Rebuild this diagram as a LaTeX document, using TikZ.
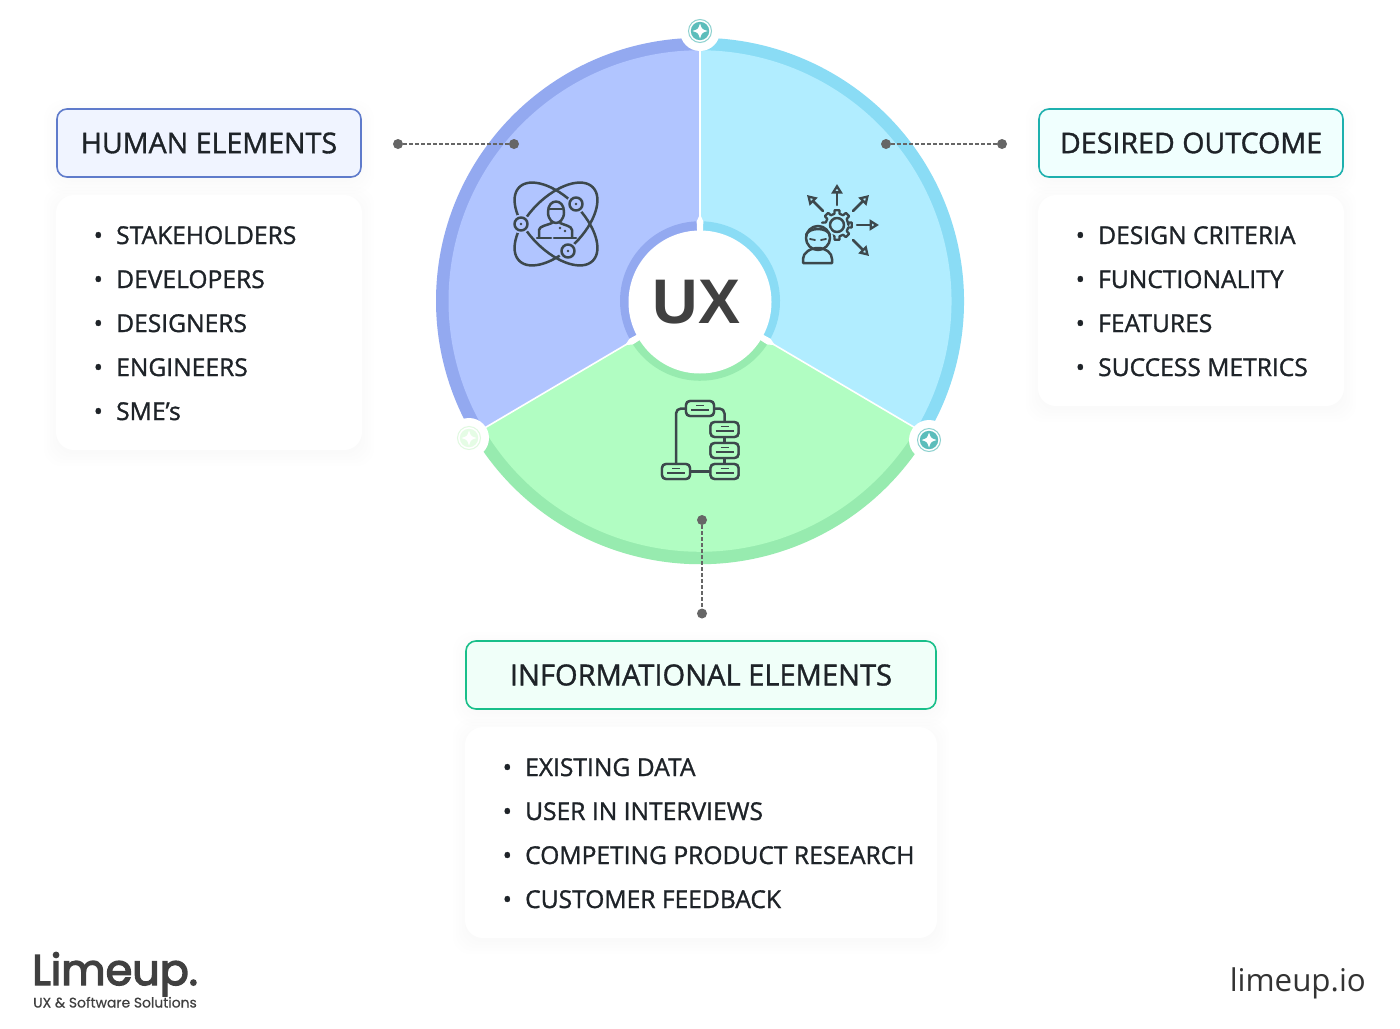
\documentclass[tikz,border=0pt]{standalone}
\usepackage{fontspec}
\setmainfont[FakeBold=1.2]{Open Sans}
\newfontfamily\plainopen{Open Sans}
\newfontfamily\logofont[FakeBold=3.2]{Poppins}
\newfontfamily\tagfont[FakeBold=0.5]{Poppins}
\newfontfamily\uxfont{Liberation Sans}
\usetikzlibrary{calc,backgrounds,arrows.meta}
\definecolor{inkdark}{HTML}{1E2328}
\definecolor{iconink}{HTML}{3C484C}
\definecolor{humanrim}{HTML}{93A9F0}
\definecolor{humanfill}{HTML}{B1C5FF}
\definecolor{outrim}{HTML}{8ADCF5}
\definecolor{outfill}{HTML}{B1EDFF}
\definecolor{inforim}{HTML}{97EBAF}
\definecolor{infofill}{HTML}{B1FDC2}
\definecolor{tealmark}{HTML}{5CBDBB}
\definecolor{humanedge}{HTML}{5F7BCB}
\definecolor{humanhead}{HTML}{F0F4FF}
\definecolor{outedge}{HTML}{1DB0AE}
\definecolor{outhead}{HTML}{F0FFFE}
\definecolor{infoedge}{HTML}{19BF8A}
\definecolor{infohead}{HTML}{F0FFF9}
\tikzset{
  x=1pt,y=-1pt,
  headbox/.style={draw=#1,line width=1.6pt,rounded corners=10pt,inner sep=0pt,
    minimum height=68pt,font=\fontsize{28.6}{32}\selectfont,text=inkdark},
  listbox/.style={fill=white,rounded corners=18pt,inner sep=0pt},
  rowtext/.style={anchor=base west,inner sep=0pt,font=\fontsize{24.6}{28}\selectfont,text=inkdark},
  dotend/.style={circle,fill=black!60,inner sep=0pt,minimum size=10pt},
  leader/.style={black!60,line width=1.3pt,dash pattern=on 3.5pt off 2.5pt},
  iconline/.style={iconink,line width=2.5pt,line cap=round,line join=round},
  flowbox/.style={draw=iconink,line width=2.4pt,rounded corners=4pt,inner sep=0pt,fill=infofill,minimum width=28pt,minimum height=15pt},
  arrowopen/.style={iconline,-{Triangle[open,length=9.5pt,width=11pt,line width=2.3pt]}},
}
\newcommand\softshadow[1]{%
  \begin{scope}[on background layer]
  \foreach \g in {12,9,6,3,0}{
    \fill[black,opacity=0.005,rounded corners=18pt]
      ($(#1.north west)+(-\g,-\g+4)$) rectangle ($(#1.south east)+(\g,\g+4)$);
  }
  \end{scope}}
\newcommand\rowitem[3]{\node[rowtext] (#1) at #2 {\makebox[22.5pt][l]{•}#3};}
\newcommand\notchmark[4]{% name, pos, ring, disc
  \fill[white] #2 circle (20);
  \node[circle,draw=#3,line width=1pt,fill=white,minimum size=23pt,inner sep=0pt] (#1) at #2 {};
  \fill[#4] #2 circle (9.2);
  \begin{scope}[shift={#2}]
    \fill[white] (0,-7.5) .. controls (1.8,-1.8) .. (7.5,0) .. controls (1.8,1.8) .. (0,7.5) .. controls (-1.8,1.8) .. (-7.5,0) .. controls (-1.8,-1.8) .. (0,-7.5) -- cycle;
  \end{scope}}
\begin{document}
\begin{tikzpicture}
\path[use as bounding box] (0,0) rectangle (1400,1028);
\begin{scope}[on background layer]
\fill[white] (0,0) rectangle (1400,1028);
\end{scope}

%% wheel
\begin{scope}[shift={(700,301)},y=1pt,yscale=0.997]
  \fill[humanrim] (0,0) -- (90:264) arc[start angle=90,end angle=210.6,radius=264] -- cycle;
  \fill[outrim] (0,0) -- (-30.6:264) arc[start angle=-30.6,end angle=90,radius=264] -- cycle;
  \fill[inforim] (0,0) -- (210.6:264) arc[start angle=210.6,end angle=329.4,radius=264] -- cycle;
  \fill[humanfill] (0,0) -- (90:251.5) arc[start angle=90,end angle=210.6,radius=251.5] -- cycle;
  \fill[outfill] (0,0) -- (-30.6:251.5) arc[start angle=-30.6,end angle=90,radius=251.5] -- cycle;
  \fill[infofill] (0,0) -- (210.6:251.5) arc[start angle=210.6,end angle=329.4,radius=251.5] -- cycle;
  \fill[humanrim] (0,0) -- (90:80) arc[start angle=90,end angle=210.6,radius=80] -- cycle;
  \fill[outrim] (0,0) -- (-30.6:80) arc[start angle=-30.6,end angle=90,radius=80] -- cycle;
  \fill[inforim] (0,0) -- (210.6:80) arc[start angle=210.6,end angle=329.4,radius=80] -- cycle;
  \foreach \a in {90,210.6,329.4}{
    \draw[white,line width=1.6pt] (\a:70) -- (\a:264);
    \fill[white] (\a+2.4:70) -- (\a+2.4:80) -- (\a:87) -- (\a-2.4:80) -- (\a-2.4:70) -- cycle;
  }
\end{scope}
\node[circle,fill=white,minimum size=143pt,inner sep=0pt] (ux) at (700,302) {};
\node[text=black!75,inner sep=0pt,font=\uxfont\bfseries\fontsize{63}{64}\selectfont] (uxlabel) at (696.5,302) {UX};

\notchmark{marktop}{(700,31)}{tealmark!70}{tealmark}
\notchmark{markright}{(929,440)}{tealmark!70}{tealmark}
\notchmark{markleft}{(469,438)}{black!20!green!12}{black!10!green!10}

%% icon: human elements
\begin{scope}[shift={(556,224)},iconline]
  \draw[rotate=45] (0,0) ellipse [x radius=52,y radius=27];
  \draw[rotate=-45] (0,0) ellipse [x radius=52,y radius=27];
  \foreach \p in {(20,-20),(-35,0),(12,27)}{
    \fill[humanfill] \p circle (9.5);
    \draw \p circle (6.5);
    \fill \p circle (1.4);
  }
  \draw (-8,-12) .. controls (-8,-26) and (8,-26) .. (8,-12) .. controls (8,-4) and (3,-1) .. (0,-1) .. controls (-3,-1) and (-8,-4) .. (-8,-12) -- cycle;
  \draw (-7,-15) -- (6,-15);
  \draw (-17,13) -- (-17,6) .. controls (-17,2) and (-8,1) .. (-4,-1);
  \draw (4,-1) .. controls (8,1) and (16,2) .. (16,6) -- (16,13);
  \draw (-19,14) -- (-5,14);
  \draw (-2,14) -- (20,14);
  \fill (4,4) circle (1.3);
  \fill (9,7) circle (1.3);
\end{scope}

%% icon: desired outcome
\begin{scope}[shift={(837,225)},iconline]
  \draw[line width=2.3pt] (0:11.5)
    \foreach \a in {0,45,...,315}{
      -- (\a-13:11.5) -- (\a-9:15) -- (\a+9:15) -- (\a+13:11.5)
    } -- cycle;
  \draw (0,0) circle (7);
  \coordinate (au1) at (0,-20); \coordinate (au2) at (0,-41);
  \coordinate (al1) at (-14,-14); \coordinate (al2) at (-30,-30);
  \coordinate (ar1) at (16,-14); \coordinate (ar2) at (32,-30);
  \coordinate (ae1) at (20,0); \coordinate (ae2) at (42,0);
  \coordinate (ad1) at (16,15); \coordinate (ad2) at (32,31);
  \draw[arrowopen] (au1) -- (au2);
  \draw[arrowopen] (al1) -- (al2);
  \draw[arrowopen] (ar1) -- (ar2);
  \draw[arrowopen] (ae1) -- (ae2);
  \draw[arrowopen] (ad1) -- (ad2);
  \fill[outfill] (-19,13) circle (15);
  \fill[outfill] (-34,24) rectangle (-4,38);
  \draw (-19,13) circle (12);
  \draw (-31,10) .. controls (-28,2) and (-10,2) .. (-7,10);
  \draw[line width=1.8pt] (-27,14) -- (-22,15);
  \draw[line width=1.8pt] (-16,15) -- (-11,14);
  \draw (-34,38) -- (-5,38) -- (-5,34) .. controls (-5,28) and (-11,23) .. (-19,23) .. controls (-27,23) and (-34,28) .. (-34,34) -- cycle;
\end{scope}

%% icon: informational elements
\node[flowbox] (ft) at (700,408.5) {};
\node[flowbox] (f1) at (724.5,429.5) {};
\node[flowbox] (f2) at (724.5,450.5) {};
\node[flowbox] (f3) at (724.5,471.5) {};
\node[flowbox] (fl) at (676,471.5) {};
\begin{scope}[iconline]
  \draw[rounded corners=5pt] (ft.west) -| (fl.north);
  \draw[rounded corners=5pt] (ft.east) -| (f1.north);
  \draw (f1) -- (f2);
  \draw (f2) -- (f3);
  \draw (fl) -- (f3);
\end{scope}
\foreach \n in {ft,f1,f2,f3,fl}{
  \node[flowbox] at (\n) {};
  \draw[iconink,line width=1.7pt] ($(\n)+(-4,-3)$) -- ($(\n)+(4,-3)$);
  \draw[iconink,line width=1.7pt] ($(\n)+(-9,1.5)$) -- ($(\n)+(9,1.5)$);
}

%% leaders
\node[dotend] (dh1) at (398,144) {};
\node[dotend] (dh2) at (514,144) {};
\node[dotend] (do1) at (886,144) {};
\node[dotend] (do2) at (1002,144) {};
\node[dotend] (di1) at (702,520) {};
\node[dotend] (di2) at (702,613.5) {};
\draw[leader] (dh1) -- (dh2);
\draw[leader] (do1) -- (do2);
\draw[leader] (di1) -- (di2);

%% left column
\node[headbox=humanedge,fill=humanhead,minimum width=304pt] (hh) at (209,143) {HUMAN ELEMENTS};
\node[listbox,minimum width=306pt,minimum height=255pt] (hl) at (209,322.5) {};
\softshadow{hh}\softshadow{hl}
\rowitem{h1}{(93.5,244)}{STAKEHOLDERS}
\rowitem{h2}{(93.5,288)}{DEVELOPERS}
\rowitem{h3}{(93.5,332)}{DESIGNERS}
\rowitem{h4}{(93.5,376)}{ENGINEERS}
\rowitem{h5}{(93.5,420)}{SME’s}

%% right column
\node[headbox=outedge,fill=outhead,minimum width=304pt] (oh) at (1191,143) {DESIRED OUTCOME};
\node[listbox,minimum width=306pt,minimum height=211pt] (ol) at (1191,300.5) {};
\softshadow{oh}\softshadow{ol}
\rowitem{o1}{(1075.5,244)}{DESIGN CRITERIA}
\rowitem{o2}{(1075.5,288)}{FUNCTIONALITY}
\rowitem{o3}{(1075.5,332)}{FEATURES}
\rowitem{o4}{(1075.5,376)}{SUCCESS METRICS}

%% bottom column
\node[headbox=infoedge,fill=infohead,minimum width=470pt,font=\fontsize{29.1}{32}\selectfont] (ih) at (701,675) {INFORMATIONAL ELEMENTS};
\node[listbox,minimum width=472pt,minimum height=211pt] (il) at (701,832.5) {};
\softshadow{ih}\softshadow{il}
\rowitem{i1}{(502.5,776)}{EXISTING DATA}
\rowitem{i2}{(502.5,820)}{USER IN INTERVIEWS}
\rowitem{i3}{(502.5,864)}{COMPETING PRODUCT RESEARCH}
\rowitem{i4}{(502.5,908)}{CUSTOMER FEEDBACK}

%% branding
\node[anchor=base west,inner sep=0pt,text=black!75,font=\logofont\fontsize{43}{45}\selectfont] (logo) at (32,985) {Limeup.};
\node[anchor=base west,inner sep=0pt,text=black!75,font=\tagfont\fontsize{13.9}{16}\selectfont] (tag) at (33,1007.5) {UX \& Software Solutions};
\node[anchor=base east,inner sep=0pt,text=black!80,font=\plainopen\fontsize{31.3}{36}\selectfont] (site) at (1366,991) {limeup.io};
\end{tikzpicture}
\end{document}
